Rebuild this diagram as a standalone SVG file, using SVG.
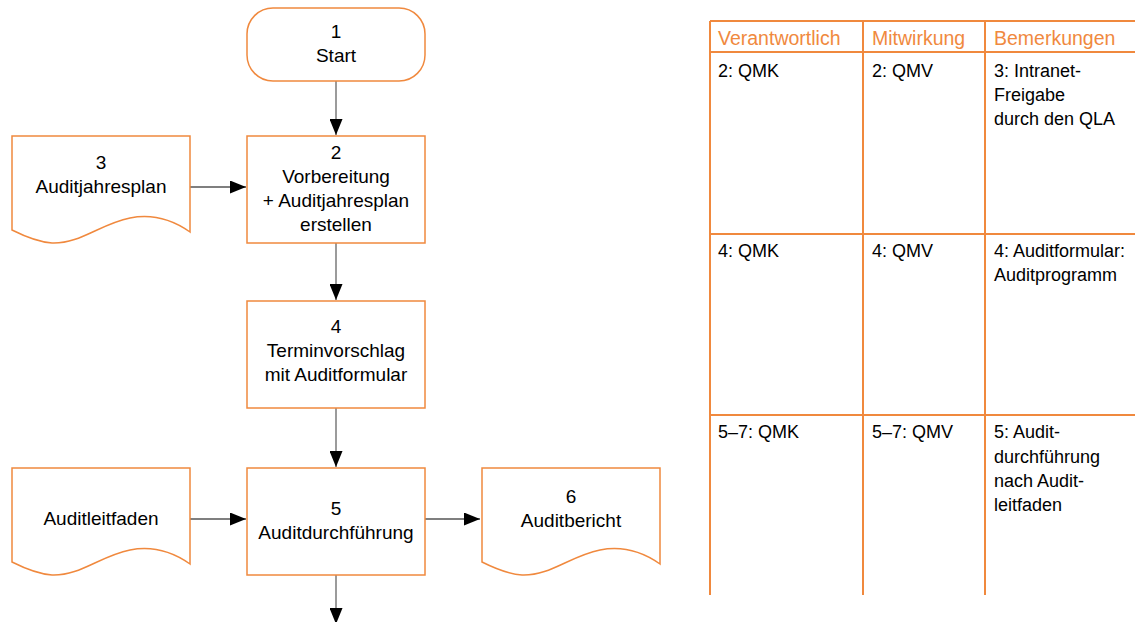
<svg xmlns="http://www.w3.org/2000/svg" width="1135" height="622" viewBox="0 0 1135 622">
  <style>
    .shape { fill: #ffffff; stroke: #F0893E; stroke-width: 1.5; }
    .lbl { font-family: "Liberation Sans", Arial, sans-serif; font-size: 19px; fill: #000000; text-anchor: middle; }
    .flow-v { stroke: #7a7a7a; stroke-width: 1.5; fill: none; }
    .flow-h { stroke: #000000; stroke-width: 1.2; fill: none; }
    .grid { stroke: #F0893E; stroke-width: 2; fill: none; }
    .head { font-family: "Liberation Sans", Arial, sans-serif; font-size: 19.5px; fill: #F0893E; }
    .cell { font-family: "Liberation Sans", Arial, sans-serif; font-size: 18px; fill: #000000; }
  </style>
  <defs>
    <marker id="arrow" markerUnits="userSpaceOnUse" markerWidth="16" markerHeight="13" refX="16" refY="6.5" orient="auto">
      <path d="M0,0 L16,6.5 L0,13 Z" fill="#000000"/>
    </marker>
    <path id="doc-shape" d="M0,0 H178 V96 C158,82 138,78 118,82 C88,88 68,108 40,107 C25,106 12,100 0,94 Z"/>
  </defs>

  <!-- Connectors -->
  <g id="connectors">
    <line class="flow-v" x1="336" y1="81" x2="336" y2="135" marker-end="url(#arrow)"/>
    <line class="flow-v" x1="336" y1="243" x2="336" y2="300" marker-end="url(#arrow)"/>
    <line class="flow-v" x1="336" y1="408" x2="336" y2="467" marker-end="url(#arrow)"/>
    <line class="flow-v" x1="336" y1="575" x2="336" y2="624" marker-end="url(#arrow)"/>
    <line class="flow-h" x1="190" y1="187" x2="246" y2="187" marker-end="url(#arrow)"/>
    <line class="flow-h" x1="190" y1="519" x2="246" y2="519" marker-end="url(#arrow)"/>
    <line class="flow-h" x1="425" y1="519" x2="480" y2="519" marker-end="url(#arrow)"/>
  </g>

  <!-- 1 Start -->
  <g id="n1-start">
    <rect class="shape" x="247" y="8" width="178" height="73" rx="26" ry="26"/>
    <text class="lbl" x="336" y="38">1</text>
    <text class="lbl" x="336" y="62">Start</text>
  </g>

  <!-- 2 Vorbereitung -->
  <g id="n2-vorbereitung">
    <rect class="shape" x="247" y="136" width="178" height="107"/>
    <text class="lbl" x="336" y="159">2</text>
    <text class="lbl" x="336" y="183">Vorbereitung</text>
    <text class="lbl" x="336" y="207">+ Auditjahresplan</text>
    <text class="lbl" x="336" y="231">erstellen</text>
  </g>

  <!-- 3 Auditjahresplan (document) -->
  <g id="n3-auditjahresplan">
    <use href="#doc-shape" class="shape" x="12" y="136"/>
    <text class="lbl" x="101" y="169">3</text>
    <text class="lbl" x="101" y="193">Auditjahresplan</text>
  </g>

  <!-- 4 Terminvorschlag -->
  <g id="n4-terminvorschlag">
    <rect class="shape" x="247" y="301" width="178" height="107"/>
    <text class="lbl" x="336" y="333">4</text>
    <text class="lbl" x="336" y="357">Terminvorschlag</text>
    <text class="lbl" x="336" y="381">mit Auditformular</text>
  </g>

  <!-- Auditleitfaden (document) -->
  <g id="n-auditleitfaden">
    <use href="#doc-shape" class="shape" x="12" y="468"/>
    <text class="lbl" x="101" y="525">Auditleitfaden</text>
  </g>

  <!-- 5 Auditdurchführung -->
  <g id="n5-auditdurchfuehrung">
    <rect class="shape" x="247" y="468" width="178" height="107"/>
    <text class="lbl" x="336" y="515">5</text>
    <text class="lbl" x="336" y="539">Auditdurchführung</text>
  </g>

  <!-- 6 Auditbericht (document) -->
  <g id="n6-auditbericht">
    <use href="#doc-shape" class="shape" x="482" y="468"/>
    <text class="lbl" x="571" y="503">6</text>
    <text class="lbl" x="571" y="527">Auditbericht</text>
  </g>

  <!-- Responsibility table -->
  <g id="table">
    <path class="grid" d="M710,21 H1135 M710,52 H1135 M710,234 H1135 M710,415 H1135 M710,21 V595 M863,21 V595 M985,21 V595"/>
    <text class="head" x="718" y="45">Verantwortlich</text>
    <text class="head" x="872" y="45">Mitwirkung</text>
    <text class="head" x="994" y="45">Bemerkungen</text>

    <text class="cell" x="718" y="77">2: QMK</text>
    <text class="cell" x="872" y="77">2: QMV</text>
    <text class="cell" x="994" y="77">3: Intranet-</text>
    <text class="cell" x="994" y="101">Freigabe</text>
    <text class="cell" x="994" y="125">durch den QLA</text>

    <text class="cell" x="718" y="257">4: QMK</text>
    <text class="cell" x="872" y="257">4: QMV</text>
    <text class="cell" x="994" y="257">4: Auditformular:</text>
    <text class="cell" x="994" y="281">Auditprogramm</text>

    <text class="cell" x="718" y="438">5–7: QMK</text>
    <text class="cell" x="872" y="438">5–7: QMV</text>
    <text class="cell" x="994" y="438">5: Audit-</text>
    <text class="cell" x="994" y="463">durchführung</text>
    <text class="cell" x="994" y="487">nach Audit-</text>
    <text class="cell" x="994" y="511">leitfaden</text>
  </g>
</svg>
